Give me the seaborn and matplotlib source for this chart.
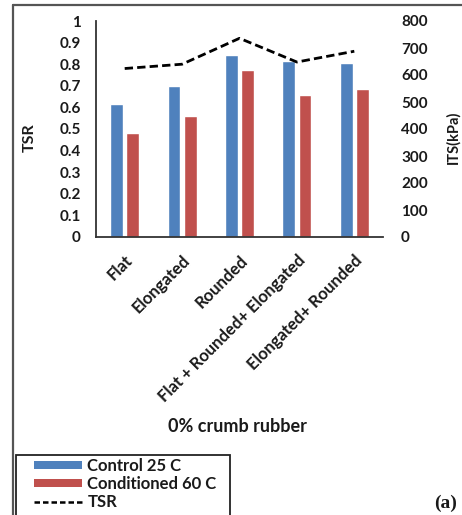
import numpy as np
import pandas as pd
import matplotlib
matplotlib.use("Agg")
import matplotlib.pyplot as plt
from matplotlib.lines import Line2D
from matplotlib.patches import Patch, Rectangle
import seaborn as sns

# Mix types (aggregate shape combinations)
mixes = ["Flat", "Elongated", "Rounded", "Flat + Rounded+ Elongated", "Elongated+ Rounded"]
# Indirect tensile strength, kPa
its_control = [493, 559, 674, 652, 643]
its_conditioned = [384, 449, 619, 526, 549]
# Tensile strength ratio
tsr = [0.78, 0.80, 0.92, 0.81, 0.86]

series_names = ["Control 25 C", "Conditioned 60 C"]
left_ticks = [0, 0.1, 0.2, 0.3, 0.4, 0.5, 0.6, 0.7, 0.8, 0.9, 1]
left_ticklabels = ["0", "0.1", "0.2", "0.3", "0.4", "0.5", "0.6", "0.7", "0.8", "0.9", "1"]
right_ticks = [0, 100, 200, 300, 400, 500, 600, 700, 800]

BLUE = "#4F81BD"
RED = "#C0504D"
TEXT = "#1a1a1a"

sns.set_style("white")
plt.rcParams["font.family"] = ["Lato", "DejaVu Sans"]
plt.rcParams["font.weight"] = "bold"

df = pd.DataFrame({
    "mix": mixes * 2,
    "cond": [series_names[0]] * len(mixes) + [series_names[1]] * len(mixes),
    "its": its_control + its_conditioned,
})

W, H = 462, 515
fig = plt.figure(figsize=(W / 100, H / 100), dpi=100)
ax = fig.add_axes([96 / W, 1 - 237 / H, (383 - 96) / W, (237 - 21) / H])

# Bars on the ITS scale
sns.barplot(data=df, x="mix", y="its", hue="cond", order=mixes,
            hue_order=series_names, palette=[BLUE, RED],
            width=0.56, gap=0.2, saturation=1, legend=False, ax=ax)

# TSR line on its own scale, drawn above the bars
ax2 = ax.twinx()
ax2.plot(np.arange(len(mixes)), tsr, color="black", lw=2.0, dashes=(3, 1.5))

ax.set_ylim(0, 800)
ax.set_xlim(-0.5, len(mixes) - 0.5)
ax.yaxis.tick_right()
ax.set_yticks(right_ticks)
ax.set_yticklabels([str(t) for t in right_ticks])
ax.yaxis.set_label_position("right")
ax.set_ylabel("ITS(kPa)", fontsize=10.5, fontweight="bold", color=TEXT)
ax.yaxis.set_label_coords((446 - 96) / 287, 0.46)
ax.set_xlabel("")
ax.set_xticks(range(len(mixes)))
ax.set_xticklabels(mixes, rotation=45, ha="right", rotation_mode="anchor",
                   fontsize=12, fontweight="bold", color=TEXT)
ax.tick_params(axis="x", length=0, pad=11)
ax.tick_params(axis="y", length=0, pad=13, labelsize=11, labelcolor=TEXT)

ax2.set_ylim(0, 1)
ax2.yaxis.tick_left()
ax2.set_yticks(left_ticks)
ax2.set_yticklabels(left_ticklabels)
ax2.yaxis.set_label_position("left")
ax2.set_ylabel("TSR", fontsize=11.5, fontweight="bold", color=TEXT)
ax2.yaxis.set_label_coords((37 - 96) / 287, 0.46)
ax2.tick_params(axis="y", length=0, pad=11, labelsize=11, labelcolor=TEXT)

for a in (ax, ax2):
    for s in ("top", "right", "left", "bottom"):
        a.spines[s].set_visible(False)
ax2.spines["left"].set_visible(True)
ax2.spines["left"].set_color("#333333")
ax2.spines["left"].set_linewidth(1.3)
ax.spines["bottom"].set_visible(True)
ax.spines["bottom"].set_color("#333333")
ax.spines["bottom"].set_linewidth(1.3)

fig.text(237 / W, 1 - 427 / H, "0% crumb rubber", ha="center", va="center",
         fontsize=13, fontweight="bold", color=TEXT)

# Legend box, running past the lower edge of the figure
fig.add_artist(Rectangle((16 / W, -0.05), (230 - 16) / W, (1 - 455 / H) + 0.05,
                         transform=fig.transFigure, facecolor="white",
                         edgecolor="#222222", lw=1.3))
handles = [Patch(facecolor=BLUE, edgecolor="none"),
           Patch(facecolor=RED, edgecolor="none"),
           Line2D([], [], color="black", lw=1.8, dashes=(2.2, 1.2))]
leg = fig.legend(handles, series_names + ["TSR"], loc="upper left",
                 bbox_to_anchor=(34 / W, 1 - 458 / H), frameon=False,
                 prop={"size": 12, "weight": "bold"},
                 handlelength=2.9, handleheight=0.36, handletextpad=0.3,
                 labelspacing=0.12, borderpad=0, borderaxespad=0)
for t in leg.get_texts():
    t.set_color(TEXT)

fig.text(446 / W, 1 - 503 / H, "(a)", ha="center", va="center",
         fontsize=14, fontweight="bold", family="Liberation Serif", color=TEXT)

# Outer frame lines
fig.add_artist(Line2D([13 / W, 1], [1 - 5 / H, 1 - 5 / H], color="#555555", lw=1.6))
fig.add_artist(Line2D([13 / W, 13 / W], [0, 1 - 5 / H], color="#555555", lw=1.6))

fig.savefig("out.png", dpi=100)
